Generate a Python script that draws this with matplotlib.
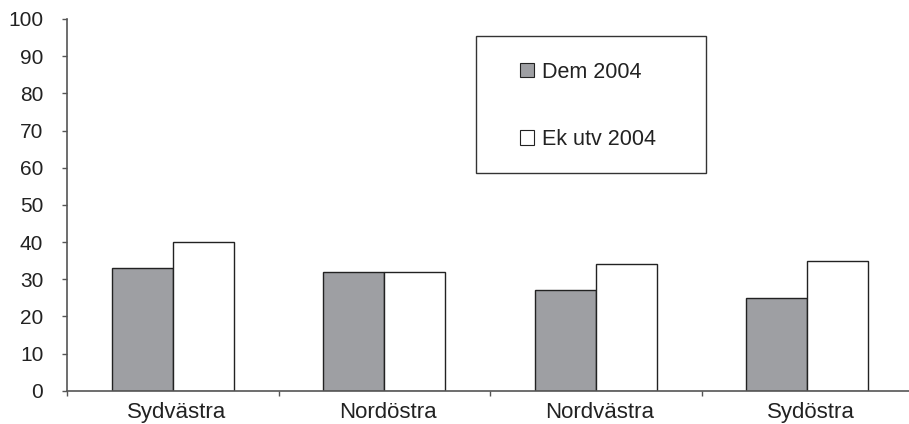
import numpy as np
import matplotlib
matplotlib.use("Agg")
import matplotlib.pyplot as plt
from matplotlib.patches import Rectangle, Patch
from matplotlib.transforms import ScaledTranslation

# ---- data ----
regions = ["Sydvästra", "Nordöstra", "Nordvästra", "Sydöstra"]
dem_2004 = [33, 32, 27, 25]
ek_utv_2004 = [40, 32, 34, 35]
series_labels = ["Dem 2004", "Ek utv 2004"]

# ---- style ----
DEM_COLOR = "#9e9fa3"
EK_COLOR = "#ffffff"
EDGE = "#222222"
AXIS_COLOR = "#555555"
TEXT_COLOR = "#222222"

plt.rcParams["font.family"] = ["Liberation Sans", "DejaVu Sans"]

fig = plt.figure(figsize=(9.09, 4.24), dpi=100)
ax = fig.add_axes([67 / 909, 1 - 390.7 / 424, 846 / 909, (390.7 - 19) / 424])

x = np.arange(len(regions))
w = 0.288
ax.bar(x - w / 2, dem_2004, width=w, color=DEM_COLOR, edgecolor=EDGE, linewidth=1.0)
ax.bar(x + w / 2, ek_utv_2004, width=w, color=EK_COLOR, edgecolor=EDGE, linewidth=1.0)

ax.set_xlim(-0.5, len(regions) - 0.5)
ax.set_ylim(0, 100)
ax.set_yticks(np.arange(0, 101, 10))

# category labels at centers, tick marks at boundaries
ax.set_xticks(np.arange(-0.5, len(regions), 1.0))
ax.set_xticklabels([])
ax.set_xticks(x, minor=True)
ax.set_xticklabels(regions, minor=True)
ax.tick_params(axis="x", which="major", direction="out", length=3.6, width=1, color=AXIS_COLOR)
ax.tick_params(axis="x", which="minor", length=0, pad=8, labelsize=16, labelcolor=TEXT_COLOR)
ax.tick_params(axis="y", direction="out", length=3.6, width=1, color=AXIS_COLOR, pad=13.5,
               labelsize=15, labelcolor=TEXT_COLOR)
# labels in the original sit a little right of the category centre
shift = ScaledTranslation(4 / 100, 0, fig.dpi_scale_trans)
for lbl in ax.get_xticklabels(minor=True):
    lbl.set_transform(lbl.get_transform() + shift)

for side in ["top", "right"]:
    ax.spines[side].set_visible(False)
for side in ["left", "bottom"]:
    ax.spines[side].set_color(AXIS_COLOR)
    ax.spines[side].set_linewidth(1.2)

# legend with a separately drawn box
handles = [Patch(facecolor=DEM_COLOR, edgecolor=EDGE, linewidth=0.8),
           Patch(facecolor=EK_COLOR, edgecolor=EDGE, linewidth=0.8)]
fig.legend(handles, series_labels, loc="center", bbox_to_anchor=(588 / 909, 1 - 106 / 424),
           frameon=False, handlelength=0.65, handleheight=0.65, handletextpad=0.37,
           labelspacing=2.15, fontsize=15.5, labelcolor=TEXT_COLOR)
fig.add_artist(Rectangle((476 / 909, 1 - 173 / 424), 230 / 909, 137 / 424,
                         transform=fig.transFigure, fill=False, edgecolor="#333333", linewidth=1.0))

fig.savefig("out.png", dpi=100)
